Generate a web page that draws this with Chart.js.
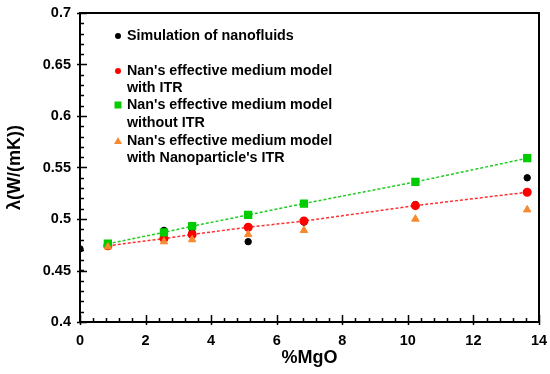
<!DOCTYPE html>
<html lang="en">
<head>
    <meta charset="UTF-8">
    <title>Thermal conductivity vs %MgO</title>
    <script src="https://cdn.jsdelivr.net/npm/chart.js"></script>
    <style>
        body {
            margin: 0;
            padding: 0;
            background: white;
        }
        .wrap {
            width: 550px;
            height: 374px;
            position: relative;
        }
    </style>
</head>
<body>
    <div class="wrap">
        <canvas id="chart"></canvas>
    </div>

    <script>
        // values
        const xSim = [0, 2.56, 3.42, 5.13, 6.83, 10.23, 13.64];
        const ySim = [0.471, 0.489, 0.487, 0.478, 0.497, 0.514, 0.540];

        const xModel = [0.85, 2.56, 3.42, 5.13, 6.83, 10.23, 13.64];
        const yWithItr = [0.474, 0.481, 0.485, 0.492, 0.498, 0.513, 0.526];
        const yWithoutItr = [0.476, 0.487, 0.493, 0.504, 0.515, 0.536, 0.559];
        const yNanoItr = [0.473, 0.478, 0.480, 0.485, 0.489, 0.500, 0.509];

        const xTicks = [0, 2, 4, 6, 8, 10, 12, 14];
        const yTicks = [0.4, 0.45, 0.5, 0.55, 0.6, 0.65, 0.7];
        const yTickLabels = ["0.4", "0.45", "0.5", "0.55", "0.6", "0.65", "0.7"];
        const xMinorStep = 0.4;
        const yMinorStep = 0.01;

        const legendItems = [
            { lines: ["Simulation of nanofluids"], shape: "circle", color: "#000000" },
            { lines: ["Nan's effective medium model", "with ITR"], shape: "circle", color: "#ff0000" },
            { lines: ["Nan's effective medium model", "without ITR"], shape: "square", color: "#00cc00" },
            { lines: ["Nan's effective medium model", "with Nanoparticle's ITR"], shape: "triangle", color: "#f7892f" }
        ];

        const pts = (xs, ys) => xs.map((x, i) => ({ x: x, y: ys[i] }));
        const FONT = "Arial, 'Liberation Sans', sans-serif";

        // frame, inside ticks and the legend
        const decorPlugin = {
            id: "decor",
            afterDraw(chart) {
                const ctx = chart.ctx;
                const a = chart.chartArea;
                const xs = chart.scales.x, ys = chart.scales.y;
                ctx.save();
                ctx.strokeStyle = "#000";
                ctx.lineWidth = 2;
                ctx.beginPath();
                ctx.moveTo(a.left, a.top);
                ctx.lineTo(a.right, a.top);
                ctx.lineTo(a.right, a.bottom);
                ctx.stroke();

                ctx.lineWidth = 1.5;
                ctx.beginPath();
                for (let v = ys.min; v <= ys.max + 1e-9; v += yMinorStep) {
                    const py = Math.round(ys.getPixelForValue(v)) + 0.5;
                    ctx.moveTo(a.left, py);
                    ctx.lineTo(a.left + 4, py);
                }
                for (let v = xs.min; v <= xs.max + 1e-9; v += xMinorStep) {
                    const px = Math.round(xs.getPixelForValue(v)) + 0.5;
                    ctx.moveTo(px, a.bottom);
                    ctx.lineTo(px, a.bottom - 4);
                }
                yTicks.forEach(v => {
                    const py = Math.round(ys.getPixelForValue(v)) + 0.5;
                    ctx.moveTo(a.left - 3, py);
                    ctx.lineTo(a.left + 7, py);
                });
                xTicks.forEach(v => {
                    const px = Math.round(xs.getPixelForValue(v)) + 0.5;
                    ctx.moveTo(px, a.bottom + 3);
                    ctx.lineTo(px, a.bottom - 7);
                });
                ctx.stroke();

                // legend
                const mx = a.left + 38, tx = a.left + 47;
                const rows = [[23], [58, 75], [92, 110], [128, 145]];
                ctx.font = "bold 14.3px " + FONT;
                ctx.textBaseline = "middle";
                ctx.textAlign = "left";
                legendItems.forEach((item, i) => {
                    const my = a.top + rows[i][0];
                    ctx.fillStyle = item.color;
                    ctx.beginPath();
                    if (item.shape === "circle") {
                        ctx.arc(mx, my, 3, 0, Math.PI * 2);
                    } else if (item.shape === "square") {
                        ctx.rect(mx - 3.5, my - 3.5, 7, 7);
                    } else {
                        ctx.moveTo(mx, my - 4);
                        ctx.lineTo(mx + 4, my + 3);
                        ctx.lineTo(mx - 4, my + 3);
                        ctx.closePath();
                    }
                    ctx.fill();
                    ctx.fillStyle = "#000";
                    item.lines.forEach((t, j) => {
                        ctx.fillText(t, tx, a.top + rows[i][j]);
                    });
                });
                ctx.restore();
            }
        };

        const ctx = document.getElementById("chart").getContext("2d");
        new Chart(ctx, {
            type: "scatter",
            data: {
                datasets: [
                    {
                        label: "Simulation of nanofluids",
                        data: pts(xSim, ySim),
                        backgroundColor: "#000000",
                        borderColor: "#000000",
                        pointStyle: "circle",
                        pointRadius: 3.2,
                        order: 4
                    },
                    {
                        label: "Nan's effective medium model with ITR",
                        data: pts(xModel, yWithItr),
                        backgroundColor: "#ff0000",
                        borderColor: "#ff3030",
                        pointBorderColor: "#ff0000",
                        pointStyle: "circle",
                        pointRadius: 3.8,
                        showLine: true,
                        borderWidth: 1.5,
                        borderDash: [3, 2],
                        order: 3
                    },
                    {
                        label: "Nan's effective medium model without ITR",
                        data: pts(xModel, yWithoutItr),
                        backgroundColor: "#00cc00",
                        borderColor: "#22cc22",
                        pointBorderColor: "#00cc00",
                        pointStyle: "rect",
                        pointRadius: 4.8,
                        showLine: true,
                        borderWidth: 1.5,
                        borderDash: [3, 2],
                        order: 2
                    },
                    {
                        label: "Nan's effective medium model with Nanoparticle's ITR",
                        data: pts(xModel, yNanoItr),
                        backgroundColor: "#f7892f",
                        borderColor: "#f7892f",
                        pointStyle: "triangle",
                        pointRadius: 4.3,
                        order: 1
                    }
                ]
            },
            options: {
                responsive: true,
                maintainAspectRatio: false,
                animation: false,
                layout: { padding: { left: 0, right: 11, top: 13, bottom: 0 } },
                plugins: {
                    legend: { display: false },
                    tooltip: { enabled: false }
                },
                scales: {
                    x: {
                        type: "linear",
                        min: 0,
                        max: 14,
                        afterBuildTicks: s => { s.ticks = xTicks.map(v => ({ value: v })); },
                        afterFit: s => {
                            s.height = 52;
                            s.paddingLeft = 0;
                            s.paddingRight = 0;
                        },
                        grid: { display: false, drawTicks: false },
                        border: { display: true, color: "#000", width: 2 },
                        ticks: {
                            padding: 10,
                            color: "#000",
                            font: { family: FONT, size: 14.5, weight: "bold" }
                        },
                        title: {
                            display: true,
                            text: "%MgO",
                            color: "#000",
                            padding: { top: 0, bottom: 5 },
                            font: { family: FONT, size: 18, weight: "bold" }
                        }
                    },
                    y: {
                        type: "linear",
                        min: 0.4,
                        max: 0.7,
                        afterBuildTicks: s => { s.ticks = yTicks.map(v => ({ value: v })); },
                        afterFit: s => {
                            s.width = 80;
                            s.paddingTop = 0;
                            s.paddingBottom = 0;
                        },
                        grid: { display: false, drawTicks: false },
                        border: { display: true, color: "#000", width: 2 },
                        ticks: {
                            padding: 9,
                            color: "#000",
                            font: { family: FONT, size: 14.5, weight: "bold" },
                            callback: (v, i) => yTickLabels[i]
                        },
                        title: {
                            display: true,
                            text: "λ(W/(mK))",
                            color: "#000",
                            padding: { top: 4, bottom: 0 },
                            font: { family: FONT, size: 18, weight: "bold" }
                        }
                    }
                }
            },
            plugins: [decorPlugin]
        });
    </script>
</body>
</html>
